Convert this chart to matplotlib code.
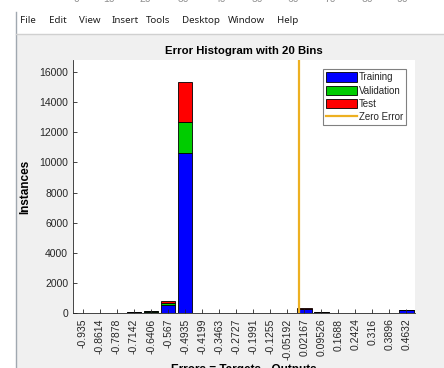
import matplotlib
matplotlib.use("Agg")
import matplotlib.pyplot as plt
from matplotlib.patches import Rectangle
import numpy as np

# Bin centres of the error histogram (also used as tick labels)
bin_labels = ["-0.935", "-0.8614", "-0.7878", "-0.7142", "-0.6406", "-0.567",
              "-0.4935", "-0.4199", "-0.3463", "-0.2727", "-0.1991", "-0.1255",
              "-0.05192", "0.02167", "0.09526", "0.1688", "0.2424", "0.316",
              "0.3896", "0.4632"]
bin_centers = [float(s) for s in bin_labels]

# Instances per bin for each data split
training =   [0, 0, 0, 40, 90, 520, 10650, 0, 0, 0, 0, 0, 0, 250, 40, 0, 0, 0, 0, 180]
validation = [0, 0, 0, 10, 20, 120, 2020, 0, 0, 0, 0, 0, 0, 30, 10, 0, 0, 0, 0, 25]
test =       [0, 0, 0, 10, 20, 160, 2660, 0, 0, 0, 0, 0, 0, 30, 10, 0, 0, 0, 0, 25]

y_ticks = [0, 2000, 4000, 6000, 8000, 10000, 12000, 14000, 16000]
menu_items = ["File", "Edit", "View", "Insert", "Tools", "Desktop", "Window", "Help"]
ruler_labels = ["0", "10", "20", "30", "40", "50", "60", "70", "80", "90"]

W, H = 444, 368
fig = plt.figure(figsize=(W / 100, H / 100), dpi=100)
fig.patch.set_facecolor("white")

def fx(px):
    return px / W

def fy(py):
    return 1 - py / H

# window chrome: grey figure area, border lines
bg = fig.add_axes([0, 0, 1, 1], zorder=-5)
bg.set_xlim(0, W)
bg.set_ylim(H, 0)
bg.axis("off")
bg.add_patch(Rectangle((16, 34), W - 16, H - 34, facecolor="#f0f0f0", edgecolor="none"))
bg.plot([15.5, 15.5], [12, H], color="#a0a8b0", lw=1.0)
bg.plot([16, W], [34, 34], color="#d0d0d0", lw=1.0)

# ruler numbers peeking in at the very top
ruler_x = [76, 109, 145, 183, 220, 257, 293, 330, 367, 402]
for lab, x in zip(ruler_labels, ruler_x):
    fig.text(fx(x), fy(-1), lab, ha="center", va="center", fontsize=7.5,
             color="#909090", family="Liberation Sans")

# menu bar
menu_x = [20, 49, 79, 112, 146, 182, 228, 277]
for lab, x in zip(menu_items, menu_x):
    fig.text(fx(x), fy(20.5), lab, ha="left", va="center", fontsize=7,
             color="#202020", family="Noto Sans")

ax = fig.add_axes([fx(73), fy(313), fx(415) - fx(73), fy(60) - fy(313)], zorder=1)
ax.set_facecolor("white")

step = bin_centers[1] - bin_centers[0]
width = 0.85 * step
tr = np.array(training)
va = np.array(validation)
te = np.array(test)
b1 = ax.bar(bin_centers, tr, width=width, color=(0, 0, 1), edgecolor="black",
            linewidth=0.6, label="Training")
b2 = ax.bar(bin_centers, va, width=width, bottom=tr, color=(0, 0.8, 0), edgecolor="black",
            linewidth=0.6, label="Validation")
b3 = ax.bar(bin_centers, te, width=width, bottom=tr + va, color=(1, 0, 0),
            edgecolor="black", linewidth=0.6, label="Test")
zl = ax.axvline(0, color=(0.93, 0.69, 0.13), lw=1.6, label="Zero Error")

ax.set_xlim(bin_centers[0] - step / 2 - 0.006, bin_centers[-1] + step / 2)
ax.set_ylim(0, 16800)
ax.set_xticks(bin_centers)
ax.set_xticklabels(bin_labels, rotation=90, fontsize=7.5, family="Liberation Sans",
                   color="#262626")
ax.set_yticks(y_ticks)
ax.set_yticklabels([str(v) for v in y_ticks], fontsize=7.5, family="Liberation Sans",
                   color="#262626")
ax.tick_params(direction="in", length=3, width=0.6, colors="#262626")
ax.tick_params(axis="x", pad=4)
for side in ("top", "right"):
    ax.spines[side].set_visible(False)
for side in ("left", "bottom"):
    ax.spines[side].set_linewidth(0.6)
    ax.spines[side].set_color("#262626")

ax.set_title("Error Histogram with 20 Bins", fontsize=8.2, fontweight="bold",
             family="Liberation Sans", color="black", pad=4)
ax.set_ylabel("Instances", fontsize=8.5, fontweight="bold", family="Liberation Sans",
              labelpad=6)
ax.set_xlabel("Errors = Targets - Outputs", fontsize=8.5, fontweight="bold",
              family="Liberation Sans", labelpad=3)

leg = ax.legend([b1, b2, b3, zl], ["Training", "Validation", "Test", "Zero Error"],
                loc="upper right", bbox_to_anchor=(0.973, 0.963),
                prop={"family": "Liberation Sans", "size": 7},
                frameon=True, fancybox=False, handlelength=3.2, handleheight=1.1,
                handletextpad=0.15, labelspacing=0.35, borderpad=0.3,
                borderaxespad=0)
leg.get_frame().set_edgecolor("#606060")
leg.get_frame().set_linewidth(0.8)
for t in leg.get_texts():
    t.set_color("#262626")

fig.savefig("out.png", dpi=100)
